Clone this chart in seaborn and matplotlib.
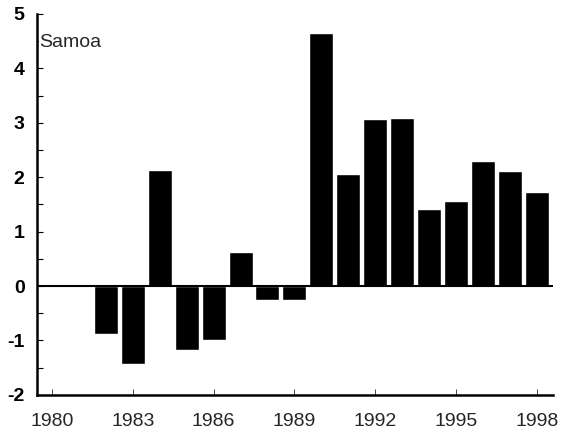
import matplotlib
matplotlib.use("Agg")
import matplotlib.pyplot as plt
import numpy as np
import pandas as pd
import seaborn as sns
from matplotlib.ticker import MultipleLocator

years = list(range(1980, 1999))
values = [0.0, 0.0, -0.89, -1.43, 2.13, -1.17, -0.99, 0.62, -0.26, -0.26,
          4.64, 2.06, 3.06, 3.08, 1.42, 1.56, 2.30, 2.11, 1.73]
x_ticks = [1980, 1983, 1986, 1989, 1992, 1995, 1998]
y_ticks = [-2, -1, 0, 1, 2, 3, 4, 5]

sns.set_theme(style="ticks")
plt.rcParams["font.family"] = ["Liberation Sans", "DejaVu Sans"]

frame = pd.DataFrame({"year": years, "value": values})

fig = plt.figure(figsize=(5.61, 4.33), dpi=100)
ax = fig.add_axes([0.066, 0.088, 0.92, 0.880])
sns.barplot(data=frame, x="year", y="value", native_scale=True, color="black",
            saturation=1, width=0.89, ax=ax)
ax.axhline(0, color="black", linewidth=1.5, zorder=3)

ax.set_xlim(1979.45, 1998.6)
ax.set_ylim(-2, 5)
ax.set_xticks(x_ticks)
ax.set_xticklabels([str(t) for t in x_ticks], fontsize=14)
ax.set_yticks(y_ticks)
ax.set_yticklabels([str(t) for t in y_ticks], fontsize=14, fontweight="bold")
ax.yaxis.set_minor_locator(MultipleLocator(0.5))
ax.tick_params(axis="y", which="both", direction="in", length=4, width=0.8,
               colors="black", pad=9)
ax.tick_params(axis="x", which="major", direction="in", length=4, width=0.6, pad=13)
ax.set_xlabel("")
ax.set_ylabel("")
for side in ["top", "right"]:
    ax.spines[side].set_visible(False)
for side in ["left", "bottom"]:
    ax.spines[side].set_linewidth(1.8)
    ax.spines[side].set_color("black")

ax.text(0.005, 0.926, "Samoa", transform=ax.transAxes, fontsize=14, ha="left", va="center",
        bbox=dict(facecolor="white", edgecolor="none", pad=0.5))

fig.savefig("out.png", dpi=100)
